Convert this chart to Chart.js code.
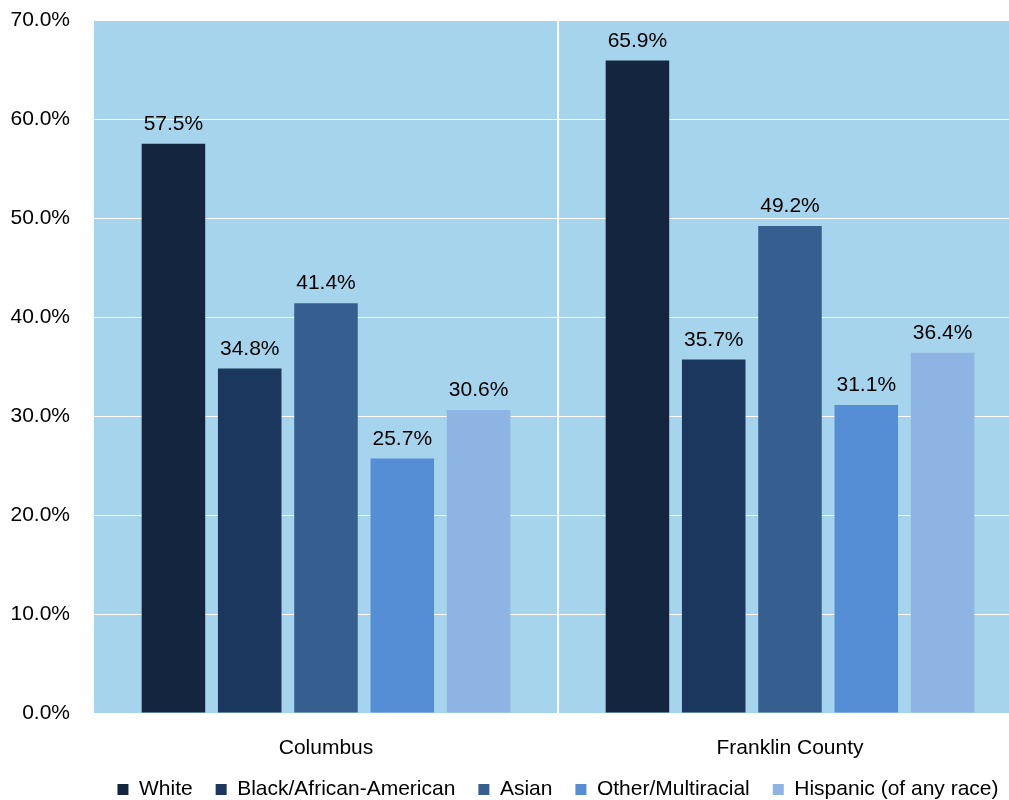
<!DOCTYPE html>
<html>
<head>
<meta charset="utf-8">
<script src="https://cdn.jsdelivr.net/npm/chart.js@4"></script>
<style>
  body { margin: 0; background: #fff; overflow: hidden; }
  #wrap { width: 1009px; height: 800px; overflow: hidden; }
</style>
</head>
<body>
<div id="wrap"><canvas id="raceChart" width="1022" height="800"></canvas></div>
<script>
// data
const places = ["Columbus", "Franklin County"];
const groups = ["White", "Black/African-American", "Asian", "Other/Multiracial", "Hispanic (of any race)"];
const white = [57.5, 65.9];
const black = [34.8, 35.7];
const asian = [41.4, 49.2];
const other = [25.7, 31.1];
const hispanic = [30.6, 36.4];
const yTicks = [0, 10, 20, 30, 40, 50, 60, 70];

const colors = ["#14263f", "#1b375e", "#365f8f", "#558ed5", "#8eb4e3"];
const series = [white, black, asian, other, hispanic];
const FONT = "'Liberation Sans', Arial, sans-serif";

// light blue plot background
const plotBg = {
  id: "plotBg",
  beforeDraw(chart) {
    const a = chart.chartArea;
    const c = chart.ctx;
    c.save();
    c.fillStyle = "#a6d4ec";
    c.fillRect(a.left, a.top, a.right - a.left, a.bottom - a.top);
    c.restore();
  },
};

// value labels above bars
const valueLabels = {
  id: "valueLabels",
  afterDatasetsDraw(chart) {
    const c = chart.ctx;
    c.save();
    c.font = "21px " + FONT;
    c.fillStyle = "#000";
    c.textAlign = "center";
    c.textBaseline = "bottom";
    chart.data.datasets.forEach((ds, i) => {
      chart.getDatasetMeta(i).data.forEach((bar, j) => {
        c.fillText(ds.data[j].toFixed(1) + "%", bar.x, bar.y - 9);
      });
    });
    c.restore();
  },
};

// fixed legend height so it sits near the bottom edge
const legendHeight = {
  id: "legendHeight",
  afterInit(chart) {
    const lg = chart.legend;
    const fit = lg.fit.bind(lg);
    lg.fit = function () {
      fit();
      this.height = 44;
    };
  },
};

const ctx = document.getElementById("raceChart").getContext("2d");
const raceChart = new Chart(ctx, {
  type: "bar",
  data: {
    labels: places,
    datasets: groups.map((g, i) => ({
      label: g,
      data: series[i],
      backgroundColor: colors[i],
      categoryPercentage: 0.822,
      barPercentage: 0.833,
    })),
  },
  options: {
    responsive: false,
    animation: false,
    layout: { autoPadding: false, padding: { top: 20, right: 0, left: 0, bottom: 0 } },
    plugins: {
      tooltip: { enabled: false },
      legend: {
        position: "bottom",
        fullSize: false,
        labels: {
          color: "#000",
          font: { size: 21, family: FONT },
          boxWidth: 11,
          boxHeight: 11,
          padding: 23,
        },
      },
    },
    scales: {
      x: {
        afterFit(scale) {
          scale.height = 43;
          scale._computeLabelArea = () => undefined; // don't clip labels to the axis box
        },
        grid: {
          drawTicks: false,
          color: (c) => (c.index === 1 ? "#ffffff" : "rgba(0,0,0,0)"),
          lineWidth: 2,
        },
        border: { display: false },
        ticks: {
          color: "#000",
          padding: 23,
          font: { size: 21, family: FONT },
        },
      },
      y: {
        min: 0,
        max: 70,
        afterFit(scale) { scale.width = 94; },
        afterBuildTicks(scale) { scale.ticks = yTicks.map((v) => ({ value: v })); },
        grid: { color: "#ffffff", lineWidth: 1, tickLength: 17, tickColor: "rgba(0,0,0,0)" },
        border: { display: false },
        ticks: {
          color: "#000",
          padding: 7,
          callback: (v) => v.toFixed(1) + "%",
          font: { size: 21, family: FONT },
        },
      },
    },
  },
  plugins: [plotBg, valueLabels, legendHeight],
});
</script>
</body>
</html>
